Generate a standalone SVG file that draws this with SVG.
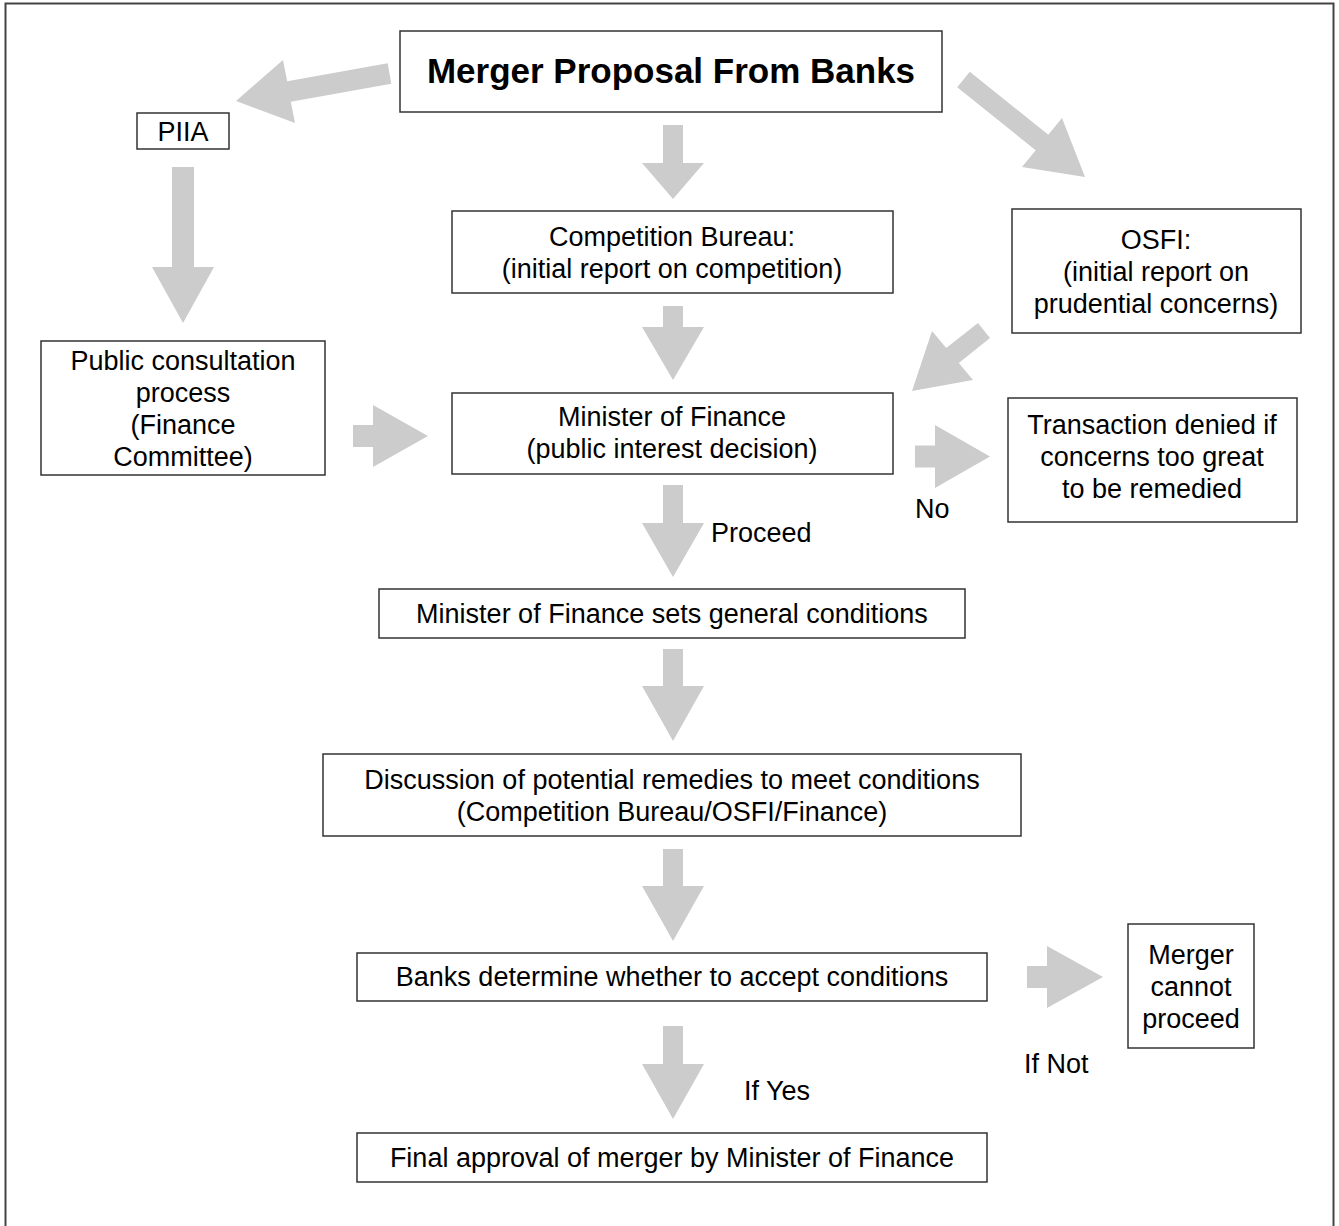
<svg xmlns="http://www.w3.org/2000/svg" width="1339" height="1226" viewBox="0 0 1339 1226">
<style>
.box{fill:#fff;stroke:#333;stroke-width:1.5}
.arr{fill:#cccccc;stroke:none}
text{font-family:"Liberation Sans",Arial,Helvetica,sans-serif;font-size:27px;fill:#000}
.c{text-anchor:middle}
.title{font-size:35px;font-weight:bold}
</style>
<rect x="0" y="0" width="1339" height="1226" fill="#fff"/>
<path d="M5.5,1230 V3.5 H1333.5 V1230" fill="none" stroke="#444" stroke-width="2"/>
<g id="connectors">
<polygon class="arr" points="387.7,63.2 287.2,81.2 283,60 236,101 295,123 290.8,101.8 391.3,83.8"/>
<polygon class="arr" points="969.8,71.7 1048.3,134.7 1062,118 1085,177 1022,167 1035.7,150.3 957.2,87.3"/>
<polygon class="arr" points="978,323 946.2,348.1 932,331 912,391 973,380 958.8,362.9 990,338"/>
<polygon class="arr" points="172,167 194,167 194,267 214,267 183,323 152,267 172,267"/>
<polygon class="arr" points="663,125 683,125 683,163 704,163 673,199 642,163 663,163"/>
<polygon class="arr" points="663,306 683,306 683,327 704,327 673,380 642,327 663,327"/>
<polygon class="arr" points="663,485 683,485 683,523 704,523 673,577 642,523 663,523"/>
<polygon class="arr" points="663,649 683,649 683,686 704,686 673,741 642,686 663,686"/>
<polygon class="arr" points="663,849 683,849 683,886 704,886 673,941 642,886 663,886"/>
<polygon class="arr" points="663,1026 683,1026 683,1064 704,1064 673,1119 642,1064 663,1064"/>
<polygon class="arr" points="353,425 373,425 373,405 428,436 373,467 373,447 353,447"/>
<polygon class="arr" points="915,445.5 935,445.5 935,425 990,456.5 935,488 935,467.5 915,467.5"/>
<polygon class="arr" points="1027,966 1047,966 1047,946 1103,977 1047,1008 1047,988 1027,988"/>
<text x="711" y="542">Proceed</text>
<text x="915" y="518">No</text>
<text x="1024" y="1073">If Not</text>
<text x="744" y="1100">If Yes</text>
</g>
<g id="merger-proposal">
<rect class="box" x="400" y="31" width="542" height="81"/>
<text class="c title" x="671" y="83">Merger Proposal From Banks</text>
</g>
<g id="piia">
<rect class="box" x="137" y="113" width="92" height="36"/>
<text class="c" x="183" y="141">PIIA</text>
</g>
<g id="competition-bureau">
<rect class="box" x="452" y="211" width="441" height="82"/>
<text class="c" x="672" y="246">Competition Bureau:</text>
<text class="c" x="672" y="278">(initial report on competition)</text>
</g>
<g id="osfi">
<rect class="box" x="1012" y="209" width="289" height="124"/>
<text class="c" x="1156" y="249">OSFI:</text>
<text class="c" x="1156" y="281">(initial report on</text>
<text class="c" x="1156" y="313">prudential concerns)</text>
</g>
<g id="public-consultation">
<rect class="box" x="41" y="341" width="284" height="134"/>
<text class="c" x="183" y="370">Public consultation</text>
<text class="c" x="183" y="402">process</text>
<text class="c" x="183" y="434">(Finance</text>
<text class="c" x="183" y="466">Committee)</text>
</g>
<g id="minister-decision">
<rect class="box" x="452" y="393" width="441" height="81"/>
<text class="c" x="672" y="426">Minister of Finance</text>
<text class="c" x="672" y="458">(public interest decision)</text>
</g>
<g id="transaction-denied">
<rect class="box" x="1008" y="398" width="289" height="124"/>
<text class="c" x="1152" y="434">Transaction denied if</text>
<text class="c" x="1152" y="466">concerns too great</text>
<text class="c" x="1152" y="498">to be remedied</text>
</g>
<g id="sets-conditions">
<rect class="box" x="379" y="589" width="586" height="49"/>
<text class="c" x="672" y="623">Minister of Finance sets general conditions</text>
</g>
<g id="discussion">
<rect class="box" x="323" y="754" width="698" height="82"/>
<text class="c" x="672" y="789">Discussion of potential remedies to meet conditions</text>
<text class="c" x="672" y="821">(Competition Bureau/OSFI/Finance)</text>
</g>
<g id="banks-determine">
<rect class="box" x="357" y="953" width="630" height="48"/>
<text class="c" x="672" y="986">Banks determine whether to accept conditions</text>
</g>
<g id="cannot-proceed">
<rect class="box" x="1128" y="924" width="126" height="124"/>
<text class="c" x="1191" y="964">Merger</text>
<text class="c" x="1191" y="996">cannot</text>
<text class="c" x="1191" y="1028">proceed</text>
</g>
<g id="final-approval">
<rect class="box" x="357" y="1133" width="630" height="49"/>
<text class="c" x="672" y="1167">Final approval of merger by Minister of Finance</text>
</g>
</svg>
